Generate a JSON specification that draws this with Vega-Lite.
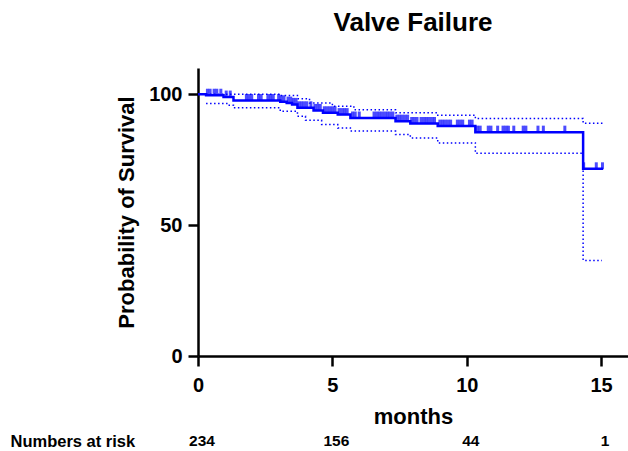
{
  "$schema": "https://vega.github.io/schema/vega-lite/v6.json",
  "padding": {"left": 10, "top": 10, "right": 0, "bottom": 0},
  "background": "white",
  "config": {"font": "Liberation Sans", "view": {"stroke": null}},
  "align": "all",
  "bounds": "full",
  "spacing": 4,
  "datasets": {
    "surv": [
      {"t": 0, "s": 100}, {"t": 0.3, "s": 99.6}, {"t": 0.95, "s": 98.9}, {"t": 1.32, "s": 97.6},
      {"t": 3.06, "s": 97.1}, {"t": 3.3, "s": 96.6}, {"t": 3.5, "s": 96.1}, {"t": 3.7, "s": 94.8},
      {"t": 4.3, "s": 93.8}, {"t": 4.65, "s": 92.9}, {"t": 5.2, "s": 92.2}, {"t": 5.67, "s": 90.9},
      {"t": 7.35, "s": 89.7}, {"t": 7.9, "s": 88.8}, {"t": 8.92, "s": 87.8}, {"t": 10.32, "s": 85.5},
      {"t": 14.33, "s": 71.5}, {"t": 15.07, "s": 71.5}
    ],
    "upper": [
      {"t": 0, "s": 100}, {"t": 3.06, "s": 99.5}, {"t": 3.7, "s": 98.3}, {"t": 4.15, "s": 96.6},
      {"t": 5.0, "s": 95.4}, {"t": 5.8, "s": 94.1}, {"t": 7.35, "s": 92.9}, {"t": 8.92, "s": 92.0},
      {"t": 10.32, "s": 90.7}, {"t": 14.33, "s": 88.9}, {"t": 15.07, "s": 88.9}
    ],
    "lower": [
      {"t": 0.3, "s": 96.4}, {"t": 1.1, "s": 95.8}, {"t": 1.32, "s": 94.8}, {"t": 3.06, "s": 93.5},
      {"t": 3.7, "s": 91.6}, {"t": 4.0, "s": 90.0}, {"t": 4.6, "s": 88.4}, {"t": 5.2, "s": 87.1},
      {"t": 5.67, "s": 85.9}, {"t": 7.35, "s": 84.6}, {"t": 7.9, "s": 83.3}, {"t": 8.92, "s": 81.4},
      {"t": 10.32, "s": 77.4}, {"t": 14.33, "s": 36.5}, {"t": 15.03, "s": 36.5}
    ],
    "cens": [
      {"t": 0.35, "s": 99.6}, {"t": 0.45, "s": 99.6}, {"t": 0.6, "s": 99.6}, {"t": 0.7, "s": 99.6}, {"t": 0.85, "s": 99.6},
      {"t": 1.05, "s": 98.9}, {"t": 1.2, "s": 98.9},
      {"t": 1.8, "s": 97.6}, {"t": 1.9, "s": 97.6}, {"t": 2.0, "s": 97.6}, {"t": 2.25, "s": 97.6}, {"t": 2.35, "s": 97.6},
      {"t": 2.6, "s": 97.6}, {"t": 2.7, "s": 97.6}, {"t": 2.8, "s": 97.6}, {"t": 3.0, "s": 97.6},
      {"t": 3.1, "s": 97.1}, {"t": 3.2, "s": 97.1},
      {"t": 3.35, "s": 96.6}, {"t": 3.45, "s": 96.6},
      {"t": 3.55, "s": 96.1}, {"t": 3.65, "s": 96.1},
      {"t": 3.75, "s": 94.8}, {"t": 3.85, "s": 94.8}, {"t": 3.95, "s": 94.8}, {"t": 4.05, "s": 94.8}, {"t": 4.2, "s": 94.8},
      {"t": 4.35, "s": 93.8}, {"t": 4.45, "s": 93.8}, {"t": 4.55, "s": 93.8},
      {"t": 4.7, "s": 92.9}, {"t": 4.8, "s": 92.9}, {"t": 4.9, "s": 92.9}, {"t": 5.0, "s": 92.9}, {"t": 5.1, "s": 92.9},
      {"t": 5.25, "s": 92.2}, {"t": 5.35, "s": 92.2}, {"t": 5.45, "s": 92.2}, {"t": 5.55, "s": 92.2},
      {"t": 5.75, "s": 90.9}, {"t": 5.85, "s": 90.9}, {"t": 6.0, "s": 90.9}, {"t": 6.55, "s": 90.9}, {"t": 6.65, "s": 90.9},
      {"t": 6.75, "s": 90.9}, {"t": 6.85, "s": 90.9}, {"t": 6.95, "s": 90.9}, {"t": 7.05, "s": 90.9}, {"t": 7.15, "s": 90.9}, {"t": 7.25, "s": 90.9},
      {"t": 7.4, "s": 89.7}, {"t": 7.5, "s": 89.7}, {"t": 7.6, "s": 89.7}, {"t": 7.7, "s": 89.7}, {"t": 7.8, "s": 89.7},
      {"t": 7.95, "s": 88.8}, {"t": 8.05, "s": 88.8}, {"t": 8.15, "s": 88.8}, {"t": 8.3, "s": 88.8}, {"t": 8.4, "s": 88.8},
      {"t": 8.5, "s": 88.8}, {"t": 8.6, "s": 88.8}, {"t": 8.7, "s": 88.8}, {"t": 8.8, "s": 88.8},
      {"t": 9.0, "s": 87.8}, {"t": 9.1, "s": 87.8}, {"t": 9.2, "s": 87.8}, {"t": 9.3, "s": 87.8}, {"t": 9.4, "s": 87.8},
      {"t": 9.65, "s": 87.8}, {"t": 9.75, "s": 87.8}, {"t": 9.85, "s": 87.8}, {"t": 10.1, "s": 87.8}, {"t": 10.2, "s": 87.8},
      {"t": 10.4, "s": 85.5}, {"t": 10.5, "s": 85.5}, {"t": 10.8, "s": 85.5}, {"t": 10.9, "s": 85.5}, {"t": 11.15, "s": 85.5},
      {"t": 11.35, "s": 85.5}, {"t": 11.45, "s": 85.5}, {"t": 11.55, "s": 85.5}, {"t": 11.75, "s": 85.5}, {"t": 12.1, "s": 85.5},
      {"t": 12.2, "s": 85.5}, {"t": 12.65, "s": 85.5}, {"t": 12.85, "s": 85.5}, {"t": 13.65, "s": 85.5},
      {"t": 14.35, "s": 71.5}, {"t": 14.82, "s": 71.5}, {"t": 15.05, "s": 71.5}
    ],
    "risk": [
      {"t": 0, "n": "234", "row": "Numbers at risk"},
      {"t": 5, "n": "156", "row": "Numbers at risk"},
      {"t": 10, "n": "44", "row": "Numbers at risk"},
      {"t": 15, "n": "1", "row": "Numbers at risk"}
    ]
  },
  "vconcat": [
    {
      "width": 430,
      "height": 288,
      "title": {"text": "Valve Failure", "fontSize": 26, "fontWeight": "bold", "anchor": "middle", "frame": "group", "offset": 32, "color": "black"},
      "encoding": {
        "x": {
          "field": "t", "type": "quantitative",
          "scale": {"domain": [0, 16], "nice": false, "zero": false},
          "axis": {
            "values": [0, 5, 10, 15], "title": "months", "titleFontSize": 22, "titleFontWeight": "bold",
            "titlePadding": 11, "titleColor": "black", "labelFontSize": 20, "labelFontWeight": "bold",
            "labelColor": "black", "labelPadding": 9, "tickSize": 10, "tickWidth": 2.5, "tickColor": "black",
            "domainWidth": 2.5, "domainColor": "black", "grid": false, "labelFlush": false
          }
        },
        "y": {
          "field": "s", "type": "quantitative",
          "scale": {"domain": [0, 110], "nice": false},
          "axis": {
            "values": [0, 50, 100], "title": "Probability of Survival", "titleFontSize": 22, "titleFontWeight": "bold",
            "titlePadding": 10, "titleColor": "black", "labelFontSize": 20, "labelFontWeight": "bold",
            "labelColor": "black", "labelPadding": 6, "tickSize": 10, "tickWidth": 2.5, "tickColor": "black",
            "domainWidth": 2.5, "domainColor": "black", "grid": false
          }
        }
      },
      "layer": [
        {"data": {"name": "upper"}, "mark": {"type": "line", "interpolate": "step-after", "color": "#0000ff", "strokeWidth": 1.5, "strokeDash": [1.5, 2.5]}},
        {"data": {"name": "lower"}, "mark": {"type": "line", "interpolate": "step-after", "color": "#0000ff", "strokeWidth": 1.5, "strokeDash": [1.5, 2.5]}},
        {"data": {"name": "surv"}, "mark": {"type": "line", "interpolate": "step-after", "color": "#0000ff", "strokeWidth": 2.5}},
        {"data": {"name": "cens"}, "mark": {"type": "tick", "orient": "vertical", "size": 7, "thickness": 3, "yOffset": -3, "color": "#0000ff"}}
      ]
    },
    {
      "width": 430,
      "height": 20,
      "data": {"name": "risk"},
      "mark": {"type": "text", "fontSize": 15.5, "fontWeight": "bold", "color": "black", "dx": 4, "baseline": "middle"},
      "encoding": {
        "x": {"field": "t", "type": "quantitative", "scale": {"domain": [0, 16], "nice": false}, "axis": null},
        "y": {
          "field": "row", "type": "nominal",
          "axis": {"title": null, "domain": false, "ticks": false, "tickSize": 0, "labelAlign": "left", "labelPadding": 188,
                   "labelFontSize": 16.5, "labelFontWeight": "bold", "labelColor": "black"}
        },
        "text": {"field": "n"}
      }
    }
  ]
}
